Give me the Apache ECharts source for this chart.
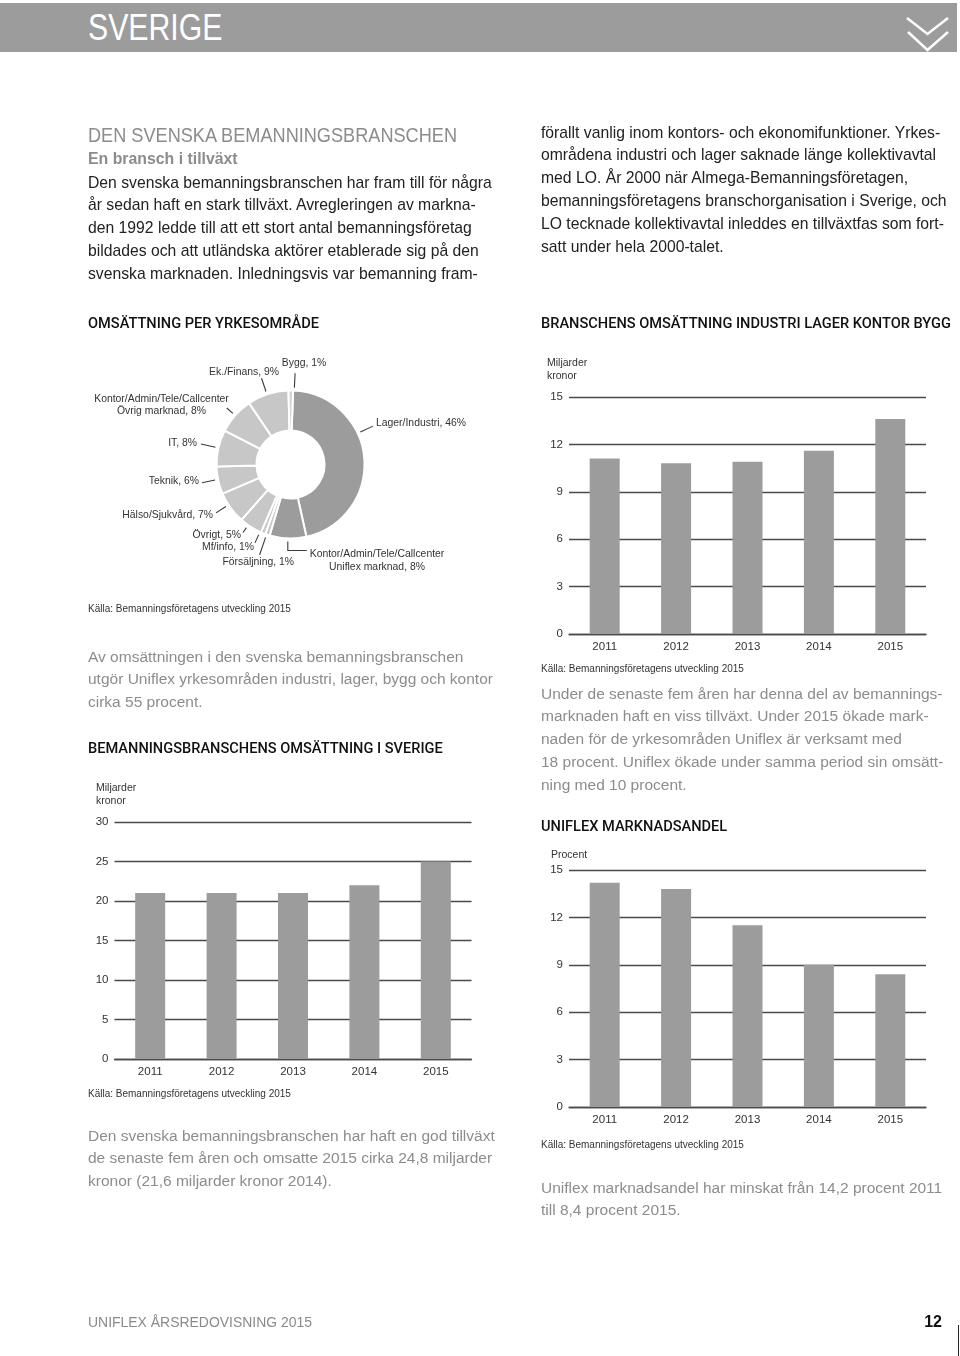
<!DOCTYPE html>
<html>
<head>
<meta charset="utf-8">
<script src="https://cdn.jsdelivr.net/npm/echarts@6/dist/echarts.min.js"></script>
<style>
  html, body { margin:0; padding:0; background:#fff; }
  #page { position:relative; width:960px; height:1356px; overflow:hidden; }
  #chart { position:absolute; left:0; top:0; width:960px; height:1356px; }
  .t { position:absolute; white-space:pre; transform-origin:0 0; }
  .reg { font-family:"Liberation Sans",Arial,sans-serif; }
  .body { font-size:17px; line-height:22.8px; color:#222; transform:scaleX(0.925); }
  .gray { font-size:15.5px; line-height:22.8px; color:#8c8c8c; }
  .sec { font-family:Roboto,"Liberation Sans",sans-serif; font-weight:500; font-size:14.6px; line-height:20px; color:#111; }
  .src { font-size:10px; line-height:14px; color:#333; }
  .ax { font-size:10.5px; line-height:13px; color:#333; }
</style>
</head>
<body>
<div id="page">
  <div id="chart"></div>

  <div style="position:absolute;left:0;top:3px;width:957px;height:49px;background:#9c9c9c;"></div>
  <div class="t reg" style="left:88px;top:7px;font-size:36px;line-height:42px;color:#fff;transform:scaleX(0.84);">SVERIGE</div>
  <svg style="position:absolute;left:900px;top:10px;" width="56" height="48">
    <polyline points="7,8 27.5,24 48,8" fill="none" stroke="#fff" stroke-width="2.5"/>
    <polyline points="8,22 27.5,40 48,22" fill="none" stroke="#fff" stroke-width="2.5"/>
  </svg>

  <div class="t reg" style="left:88px;top:123px;font-size:21px;line-height:24px;color:#8c8c8c;transform:scaleX(0.864);">DEN SVENSKA BEMANNINGSBRANSCHEN</div>
  <div class="t reg" style="left:88px;top:146px;font-size:16.5px;line-height:24px;color:#8c8c8c;font-weight:bold;transform:scaleX(0.96);">En bransch i tillväxt</div>
  <div class="t reg body" style="left:88px;top:171.6px;">Den svenska bemanningsbranschen har fram till för några
år sedan haft en stark tillväxt. Avregleringen av markna-
den 1992 ledde till att ett stort antal bemanningsföretag
bildades och att utländska aktörer etablerade sig på den
svenska marknaden. Inledningsvis var bemanning fram-</div>
  <div class="t reg body" style="left:541px;top:121.6px;">förallt vanlig inom kontors- och ekonomifunktioner. Yrkes-
områdena industri och lager saknade länge kollektivavtal
med LO. År 2000 när Almega-Bemanningsföretagen,
bemanningsföretagens branschorganisation i Sverige, och
LO tecknade kollektivavtal inleddes en tillväxtfas som fort-
satt under hela 2000-talet.</div>

  <div class="t sec" style="left:88px;top:313px;">OMSÄTTNING PER YRKESOMRÅDE</div>
  <div class="t sec" style="left:541px;top:313px;">BRANSCHENS OMSÄTTNING INDUSTRI LAGER KONTOR BYGG</div>

  <div class="t reg src" style="left:88px;top:602px;">Källa: Bemanningsföretagens utveckling 2015</div>
  <div class="t reg ax" style="left:547px;top:355.5px;">Miljarder
kronor</div>
  <div class="t reg src" style="left:541px;top:662px;">Källa: Bemanningsföretagens utveckling 2015</div>

  <div class="t reg gray" style="left:88px;top:645.5px;">Av omsättningen i den svenska bemanningsbranschen
utgör Uniflex yrkesområden industri, lager, bygg och kontor
cirka 55 procent.</div>
  <div class="t sec" style="left:88px;top:738px;">BEMANNINGSBRANSCHENS OMSÄTTNING I SVERIGE</div>
  <div class="t reg ax" style="left:96px;top:780.5px;">Miljarder
kronor</div>
  <div class="t reg src" style="left:88px;top:1087px;">Källa: Bemanningsföretagens utveckling 2015</div>
  <div class="t reg gray" style="left:88px;top:1124.5px;line-height:22.5px;">Den svenska bemanningsbranschen har haft en god tillväxt
de senaste fem åren och omsatte 2015 cirka 24,8 miljarder
kronor (21,6 miljarder kronor 2014).</div>

  <div class="t reg gray" style="left:541px;top:682.5px;line-height:22.75px;">Under de senaste fem åren har denna del av bemannings-
marknaden haft en viss tillväxt. Under 2015 ökade mark-
naden för de yrkesområden Uniflex är verksamt med
18 procent. Uniflex ökade under samma period sin omsätt-
ning med 10 procent.</div>
  <div class="t sec" style="left:541px;top:816px;">UNIFLEX MARKNADSANDEL</div>
  <div class="t reg ax" style="left:551px;top:847.5px;">Procent</div>
  <div class="t reg src" style="left:541px;top:1138px;">Källa: Bemanningsföretagens utveckling 2015</div>
  <div class="t reg gray" style="left:541px;top:1176.5px;line-height:22px;">Uniflex marknadsandel har minskat från 14,2 procent 2011
till 8,4 procent 2015.</div>

  <div class="t reg" style="left:88px;top:1312px;font-size:15px;line-height:20px;color:#8a8a8a;transform:scaleX(0.93);">UNIFLEX ÅRSREDOVISNING 2015</div>
  <div class="t reg" style="left:900px;width:42px;text-align:right;top:1312px;font-size:16px;line-height:20px;color:#111;font-weight:bold;">12</div>
  <div style="position:absolute;left:958px;top:1325px;width:1px;height:31px;background:#222;"></div>
</div>

<script>
// ---- data ----
const years = ['2011', '2012', '2013', '2014', '2015'];
const industriLagerKontorBygg = [11.1, 10.8, 10.9, 11.6, 13.6];   // miljarder kronor
const bemanningOmsattning = [21.0, 21.0, 21.0, 22.0, 25.0];       // miljarder kronor
const uniflexAndel = [14.2, 13.8, 11.5, 9.0, 8.4];                // procent
const yrkesomraden = [
  'Lager/Industri',
  'Kontor/Admin/Tele/Callcenter\nUniflex marknad',
  'Försäljning',
  'Mf/info',
  'Övrigt',
  'Hälso/Sjukvård',
  'Teknik',
  'IT',
  'Kontor/Admin/Tele/Callcenter\nÖvrig marknad',
  'Ek./Finans',
  'Bygg'
];
const yrkesandelar = [46, 8, 1, 1, 5, 7, 6, 8, 8, 9, 1];

// ---- layout / style ----
const DARK = '#9c9c9c', LIGHT = '#c7c7c7', LIGHTER = '#d2d2d2';
const sliceColors = [DARK, DARK, LIGHT, LIGHT, LIGHT, LIGHT, LIGHT, LIGHT, LIGHT, LIGHT, LIGHTER];
const PIE_C = [290.5, 464.5], PIE_R = [34, 74];
const LINE_R = 77;   // leader lines stop just outside the ring
// label placement: [x, y, align, leader side, position along side (0..1), gap]
const labelPos = [
  [376, 423, 'left', 'l', 0.75, 3],
  [377, 560.5, 'center', 'elbow', 0, 3],
  [294, 562, 'right', 't', 0.52, 1],
  [254, 547, 'right', 'r', 0.17, 1],
  [241, 535, 'right', 'r', 0.3, 2],
  [213, 515, 'right', 'r', 0.33, 3],
  [199, 481, 'right', 'r', 0.64, 3],
  [197, 443, 'right', 'r', 0.58, 4],
  [161.5, 405, 'center', 'r', 0.62, -2],
  [279, 372, 'right', 'b', 0.75, 0],
  [304, 363, 'center', 'b', 0.3, 4]
];

// mid-angle (radians) of each slice, derived from the data and the pie start angle
const START = 88;
const total = yrkesandelar.reduce((a, b) => a + b, 0);
const midAngles = [];
{
  let cum = 0;
  yrkesandelar.forEach(v => {
    const mid = START - 360 * (cum + v / 2) / total;
    midAngles.push(mid * Math.PI / 180);
    cum += v;
  });
}

const chart = echarts.init(document.getElementById('chart'), null, {renderer: 'canvas'});
const axisFont = {fontFamily: '"Liberation Sans", Arial, sans-serif', fontSize: 11.5, color: '#333'};

function grid(left, top) { return {left: left, top: top, width: 357, height: 237, containLabel: false}; }
function xAx(i) {
  return {
    type: 'category', data: years, gridIndex: i,
    axisLine: {show: true, lineStyle: {color: '#4a4a4a', width: 1.4}},
    axisTick: {show: false},
    axisLabel: Object.assign({margin: 7}, axisFont)
  };
}
function yAx(i, max, interval) {
  return {
    type: 'value', gridIndex: i, min: 0, max: max, interval: interval,
    axisLine: {show: false}, axisTick: {show: false},
    splitLine: {show: true, lineStyle: {color: '#4a4a4a', width: 1.4}},
    axisLabel: Object.assign({margin: 6}, axisFont)
  };
}
function bars(i, data) {
  return {
    type: 'bar', xAxisIndex: i, yAxisIndex: i, data: data, barWidth: 30,
    itemStyle: {color: DARK}, silent: true, animation: false
  };
}

chart.setOption({
  animation: false,
  grid: [grid(569, 397), grid(114.5, 822), grid(569, 870)],
  xAxis: [xAx(0), xAx(1), xAx(2)],
  yAxis: [yAx(0, 15, 3), yAx(1, 30, 5), yAx(2, 15, 3)],
  series: [
    bars(0, industriLagerKontorBygg),
    bars(1, bemanningOmsattning),
    bars(2, uniflexAndel),
    {
      type: 'pie',
      center: PIE_C,
      radius: PIE_R,
      startAngle: START,
      clockwise: true,
      silent: true,
      animation: false,
      data: yrkesomraden.map((n, i) => ({name: n, value: yrkesandelar[i], itemStyle: {color: sliceColors[i]}})),
      itemStyle: {borderColor: '#fff', borderWidth: 2},
      label: {
        show: true,
        formatter: p => p.name + ', ' + p.value + '%',
        fontFamily: '"Liberation Sans", Arial, sans-serif',
        fontSize: 10.4, lineHeight: 12.5, color: '#333'
      },
      labelLine: {show: true, length: 8, length2: 8, lineStyle: {color: '#3a3a3a', width: 1.1}},
      labelLayout: function (params) {
        const i = params.dataIndex;
        const p = labelPos[i];
        const w = params.labelRect.width, h = params.labelRect.height;
        const x0 = p[2] === 'left' ? p[0] : (p[2] === 'right' ? p[0] - w : p[0] - w / 2);
        const y0 = p[1] - h / 2;
        let pts;
        if (p[3] === 'elbow') {
          const a = midAngles[i];
          const s = [PIE_C[0] + LINE_R * Math.cos(a), PIE_C[1] - LINE_R * Math.sin(a)];
          const ey = y0 + 2.5;
          pts = [s, [s[0], ey], [x0 - p[5], ey]];
        } else {
          let A;
          if (p[3] === 'r') A = [x0 + w + p[5], y0 + p[4] * h];
          else if (p[3] === 'l') A = [x0 - p[5], y0 + p[4] * h];
          else if (p[3] === 't') A = [x0 + p[4] * w, y0 - p[5]];
          else A = [x0 + p[4] * w, y0 + h + p[5]];
          const dx = A[0] - PIE_C[0], dy = A[1] - PIE_C[1];
          const d = Math.hypot(dx, dy);
          const B = [PIE_C[0] + dx / d * LINE_R, PIE_C[1] + dy / d * LINE_R];
          pts = [B, A];
        }
        return {x: p[0], y: p[1], align: p[2], verticalAlign: 'middle', hideOverlap: false, labelLinePoints: pts};
      }
    }
  ]
});
</script>
</body>
</html>
